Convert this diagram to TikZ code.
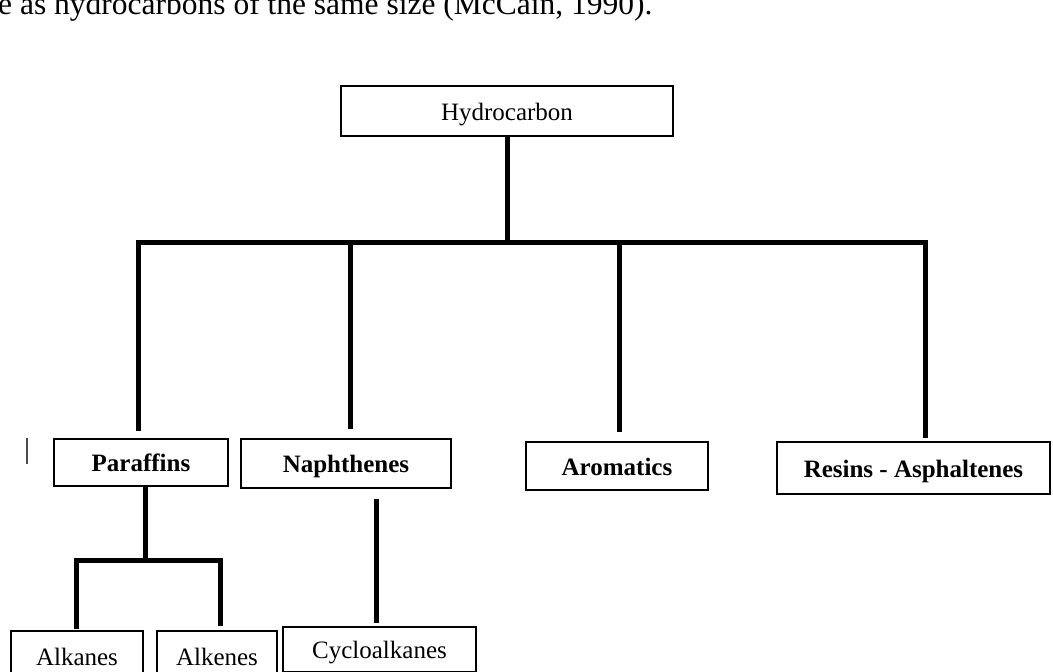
\documentclass[tikz,border=0pt]{standalone}
\usepackage{fontspec}
\setmainfont{Liberation Serif}
\usetikzlibrary{calc}
\begin{document}
\begin{tikzpicture}[x=1pt,y=-1pt,
  box/.style={draw,line width=2pt,inner sep=0pt,text height=18pt,text depth=0pt,font=\fontsize{25}{30}\selectfont},
  bbox/.style={box,font=\fontsize{25}{30}\selectfont\bfseries},
  conn/.style={line width=5pt}]
\useasboundingbox (0,0) rectangle (1053,672); \clip (0,0) rectangle (1053,672);
% cut-off line of text above the chart
\node[anchor=base west,inner sep=0pt,font=\fontsize{31.5}{36}\selectfont] (intro) at (-2,14) {e as hydrocarbons of the same size (McCain, 1990).};
% boxes
\node[box,minimum width=332pt,minimum height=50pt] (hc) at (507,111) {Hydrocarbon};
\node[bbox,minimum width=174pt,minimum height=47pt] (par) at (141,462.5) {Paraffins}; \node[bbox,minimum width=210pt,minimum height=49pt] (nap) at (346,463.5) {Naphthenes};
\node[bbox,minimum width=182pt,minimum height=48pt] (aro) at (617,466) {Aromatics}; \node[bbox,minimum width=273pt,minimum height=52pt] (res) at (913.5,468) {Resins - Asphaltenes};
\node[box,minimum width=132pt,minimum height=50pt] (alk) at (77,656) {Alkanes}; \node[box,minimum width=120pt,minimum height=50pt] (alke) at (217,656) {Alkenes};
\node[box,minimum width=193pt,minimum height=45pt] (cyc) at (379.5,649.5) {Cycloalkanes};
% connectors
\coordinate (j0) at (507,242); \coordinate (j1) at (145,560);
\draw[conn] (hc.south) -- (j0);
\draw[conn] ([xshift=-3pt,yshift=7pt]par.north) |- (j0) -| ([xshift=12pt,yshift=3pt]res.north);
\draw[conn] ([xshift=4pt,yshift=9pt]nap.north) -- ($(nap.north |- j0)+(4,0)$);
\draw[conn] ([xshift=2pt,yshift=9pt]aro.north) -- ($(aro.north |- j0)+(2,0)$);
\draw[conn] ([xshift=4pt]par.south) -- (j1);
\draw[conn] ([xshift=-1pt,yshift=1pt]alk.north) |- (j1) -| ([xshift=3pt,yshift=4pt]alke.north);
\draw[conn] ([xshift=30pt,yshift=-10pt]nap.south) -- ([xshift=-3.5pt,yshift=3pt]cyc.north);
\draw[line width=1.5pt,black!70] (27,438) -- (27,464);
\end{tikzpicture}
\end{document}
